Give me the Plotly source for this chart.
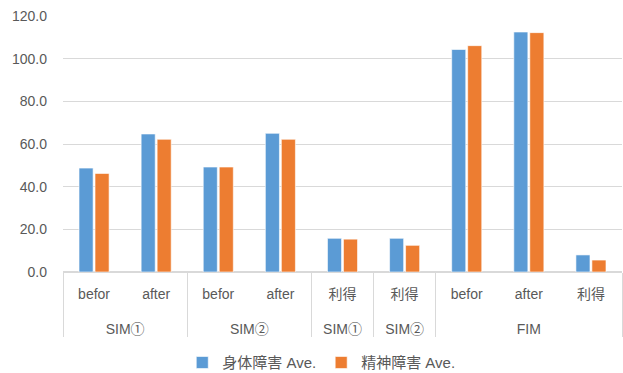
import plotly.graph_objects as go

groups = ["SIM①", "SIM①", "SIM②", "SIM②", "SIM①\u200b", "SIM②\u200b", "FIM", "FIM", "FIM"]
subcats = ["befor", "after", "befor", "after", "利得", "利得", "befor", "after", "利得"]
physical = [48.7, 64.7, 49.2, 65.0, 15.8, 15.8, 104.3, 112.5, 8.0]
mental = [46.2, 62.2, 49.2, 62.2, 15.4, 12.5, 106.1, 112.2, 5.6]
series_names = ["身体障害 Ave.", "精神障害 Ave."]
colors = ["#5B9BD5", "#ED7D31"]

FONT = "Liberation Sans, Noto Sans CJK JP, sans-serif"

# spacer line under the sub-category labels pushes the group labels lower
sub_labels = [s + "<br><span style='font-size:38px'> </span>" for s in subcats]

fig = go.Figure()
for name, vals, col in zip(series_names, [physical, mental], colors):
    fig.add_trace(go.Bar(
        x=[groups, sub_labels], y=vals, name=name,
        marker=dict(color=col, line=dict(color="rgba(255,255,255,0.6)", width=1)),
    ))

fig.update_layout(
    width=623, height=373,
    margin=dict(l=63, r=1, t=16, b=101, autoexpand=False),
    paper_bgcolor="white", plot_bgcolor="white",
    barmode="group", bargap=0.485, bargroupgap=0.12,
    font=dict(family=FONT, color="#595959", size=14),
    showlegend=True,
    legend=dict(orientation="h", x=0.462, xanchor="center", y=-0.29, yanchor="top",
                font=dict(size=15, color="#595959"), itemwidth=30, traceorder="normal"),
    xaxis=dict(
        type="multicategory", showgrid=False, showline=True, linecolor="#D9D9D9",
        showdividers=True, dividercolor="#D9D9D9", dividerwidth=1, automargin=False,
        tickfont=dict(size=14, color="#595959"), ticks="", ticklabelstandoff=9,
    ),
    yaxis=dict(
        range=[0, 120], dtick=20, tickformat=".1f", showgrid=True, automargin=False,
        gridcolor="#D9D9D9", gridwidth=1, zeroline=True, zerolinecolor="#D9D9D9",
        showline=False, ticks="", ticklabelstandoff=15,
        tickfont=dict(size=14, color="#595959"),
    ),
)

fig.write_html("out.html")
